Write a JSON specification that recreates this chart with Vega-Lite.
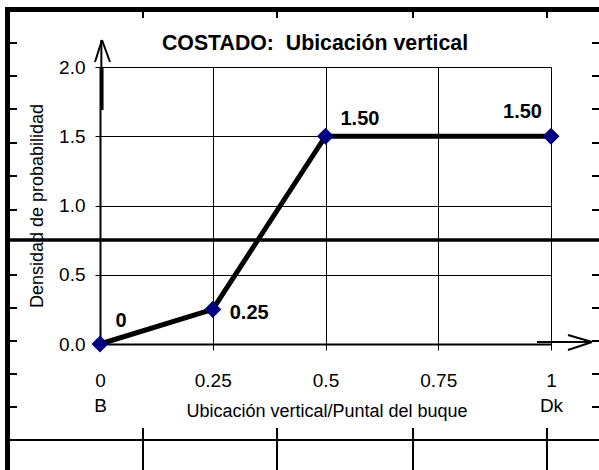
{
  "$schema": "https://vega.github.io/schema/vega-lite/v6.json",
  "width": 451,
  "height": 277,
  "autosize": {"type": "none"},
  "padding": {"left": 100, "top": 67, "right": 48, "bottom": 126},
  "background": "white",
  "config": {"view": {"stroke": null}, "font": "Liberation Sans"},
  "title": {
    "text": "COSTADO:\u00a0 Ubicación vertical",
    "frame": "group",
    "anchor": "middle",
    "font": "Liberation Sans",
    "fontSize": 21.3,
    "fontWeight": "bold",
    "color": "black",
    "dx": -10.5,
    "baseline": "alphabetic",
    "offset": -64
  },
  "datasets": {
    "series": [
      {"x": 0, "y": 0, "label": "0"},
      {"x": 0.25, "y": 0.25, "label": "0.25"},
      {"x": 0.5, "y": 1.5, "label": "1.50"},
      {"x": 1, "y": 1.5, "label": "1.50"}
    ],
    "frame": [
      {"kind": "top", "x": -0.2106, "x2": 1.12, "y": 2.4152, "y2": 2.4152},
      {"kind": "border", "x": -0.2051, "x2": -0.2051, "y": 2.4152, "y2": -0.95},
      {"kind": "heavy", "x": -0.2051, "x2": 1.12, "y": 0.7509, "y2": 0.7509},
      {"kind": "heavy", "x": 0.004, "x2": 0.004, "y": 2.0, "y2": 1.6895},
      {"kind": "thin", "x": -0.2051, "x2": 1.12, "y": -0.6931, "y2": -0.6931},
      {"kind": "thin", "x": 0.0953, "x2": 0.0953, "y": -0.6065, "y2": -0.95},
      {"kind": "thin", "x": 0.3925, "x2": 0.3925, "y": -0.6065, "y2": -0.95},
      {"kind": "thin", "x": 0.694, "x2": 0.694, "y": -0.6065, "y2": -0.95},
      {"kind": "thin", "x": 0.9911, "x2": 0.9911, "y": -0.6065, "y2": -0.95},
      {"kind": "thin", "x": 0.0953, "x2": 0.0953, "y": 2.41, "y2": 2.3538},
      {"kind": "thin", "x": 0.3925, "x2": 0.3925, "y": 2.41, "y2": 2.3538},
      {"kind": "thin", "x": 0.694, "x2": 0.694, "y": 2.41, "y2": 2.3538},
      {"kind": "thin", "x": 0.9911, "x2": 0.9911, "y": 2.41, "y2": 2.3538},
      {"kind": "thin", "x": -0.2051, "x2": -0.184, "y": 2.1733, "y2": 2.1733},
      {"kind": "thin", "x": -0.2051, "x2": -0.184, "y": 1.935, "y2": 1.935},
      {"kind": "thin", "x": -0.2051, "x2": -0.184, "y": 1.6968, "y2": 1.6968},
      {"kind": "thin", "x": -0.2051, "x2": -0.184, "y": 1.4513, "y2": 1.4513},
      {"kind": "thin", "x": -0.2051, "x2": -0.184, "y": 1.213, "y2": 1.213},
      {"kind": "thin", "x": -0.2051, "x2": -0.184, "y": 0.9675, "y2": 0.9675},
      {"kind": "thin", "x": -0.2051, "x2": -0.184, "y": 0.4982, "y2": 0.4982},
      {"kind": "thin", "x": -0.2051, "x2": -0.184, "y": 0.2599, "y2": 0.2599},
      {"kind": "thin", "x": -0.2051, "x2": -0.184, "y": 0.0217, "y2": 0.0217},
      {"kind": "thin", "x": -0.2051, "x2": -0.184, "y": -0.2166, "y2": -0.2166},
      {"kind": "thin", "x": -0.2051, "x2": -0.184, "y": -0.4549, "y2": -0.4549},
      {"kind": "thin", "x": 1.0909, "x2": 1.12, "y": 2.1733, "y2": 2.1733},
      {"kind": "thin", "x": 1.0909, "x2": 1.12, "y": 1.935, "y2": 1.935},
      {"kind": "thin", "x": 1.0909, "x2": 1.12, "y": 1.6968, "y2": 1.6968},
      {"kind": "thin", "x": 1.0909, "x2": 1.12, "y": 1.4513, "y2": 1.4513},
      {"kind": "thin", "x": 1.0909, "x2": 1.12, "y": 1.213, "y2": 1.213},
      {"kind": "thin", "x": 1.0909, "x2": 1.12, "y": 0.9675, "y2": 0.9675},
      {"kind": "thin", "x": 1.0909, "x2": 1.12, "y": 0.4982, "y2": 0.4982},
      {"kind": "thin", "x": 1.0909, "x2": 1.12, "y": 0.2599, "y2": 0.2599},
      {"kind": "thin", "x": 1.0909, "x2": 1.12, "y": 0.0217, "y2": 0.0217},
      {"kind": "thin", "x": 1.0909, "x2": 1.12, "y": -0.2166, "y2": -0.2166},
      {"kind": "thin", "x": 1.0909, "x2": 1.12, "y": -0.4549, "y2": -0.4549},
      {"kind": "thin", "x": 0.003, "x2": 0.003, "y": 2.1949, "y2": 2.0},
      {"kind": "thin", "x": 0.0044, "x2": -0.0111, "y": 2.1949, "y2": 2.0361},
      {"kind": "thin", "x": 0.0044, "x2": 0.0222, "y": 2.1949, "y2": 2.0361},
      {"kind": "thin", "x": 0.969, "x2": 1.0909, "y": 0.0144, "y2": 0.0144},
      {"kind": "thin", "x": 1.0909, "x2": 1.0377, "y": 0.0144, "y2": 0.065},
      {"kind": "thin", "x": 1.0909, "x2": 1.0377, "y": 0.0144, "y2": -0.0433}
    ]
  },
  "encoding": {
    "x": {
      "field": "x",
      "type": "quantitative",
      "scale": {"domain": [0, 1], "nice": false, "zero": false},
      "axis": {
        "values": [0, 0.25, 0.5, 0.75, 1],
        "format": ".2~f",
        "labelExpr": "datum.value == 0 ? ['0', 'B'] : datum.value == 1 ? ['1', 'Dk'] : datum.label",
        "grid": true,
        "gridColor": "black",
        "gridWidth": 1,
        "gridOpacity": 1,
        "domainColor": "black",
        "domainWidth": 2,
        "tickColor": "black",
        "tickWidth": 1,
        "tickSize": 6,
        "labelFont": "Liberation Sans",
        "labelFontSize": 19,
        "labelColor": "black",
        "labelPadding": 21,
        "labelLineHeight": 25,
        "labelFlush": false,
        "labelOverlap": false,
        "labelBound": false,
        "title": "Ubicación vertical/Puntal del buque",
        "titleFont": "Liberation Sans",
        "titleFontSize": 18,
        "titleFontWeight": "normal",
        "titleColor": "black",
        "titleX": 226.5,
        "titleY": 67,
        "titleAlign": "center",
        "titleBaseline": "middle"
      }
    },
    "y": {
      "field": "y",
      "type": "quantitative",
      "scale": {"domain": [0, 2], "nice": false, "zero": false},
      "axis": {
        "values": [0, 0.5, 1, 1.5, 2],
        "format": ".1f",
        "grid": true,
        "gridColor": "black",
        "gridWidth": 1,
        "gridOpacity": 1,
        "domainColor": "black",
        "domainWidth": 2,
        "tickColor": "black",
        "tickWidth": 1,
        "tickSize": 5,
        "labelFont": "Liberation Sans",
        "labelFontSize": 19,
        "labelColor": "black",
        "labelPadding": 10,
        "labelFlush": false,
        "labelOverlap": false,
        "labelBound": false,
        "title": "Densidad de probabilidad",
        "titleFont": "Liberation Sans",
        "titleFontSize": 18,
        "titleFontWeight": "normal",
        "titleColor": "black",
        "titleX": -63,
        "titleY": 138.5,
        "titleAngle": -90,
        "titleAlign": "center",
        "titleBaseline": "middle"
      }
    }
  },
  "layer": [
    {
      "data": {"name": "frame"},
      "transform": [{"filter": "datum.kind == 'thin'"}],
      "mark": {"type": "rule", "color": "black", "strokeWidth": 2},
      "encoding": {"x2": {"field": "x2"}, "y2": {"field": "y2"}}
    },
    {
      "data": {"name": "series"},
      "mark": {"type": "line", "color": "black", "strokeWidth": 5}
    },
    {
      "data": {"name": "series"},
      "mark": {"type": "point", "shape": "diamond", "filled": true, "color": "#000080", "size": 290, "opacity": 1}
    },
    {
      "data": {"name": "series"},
      "transform": [{"filter": "datum.x == 0"}],
      "mark": {"type": "text", "align": "center", "baseline": "middle", "dx": 21, "dy": -23, "font": "Liberation Sans", "fontSize": 20, "fontWeight": "bold", "color": "black"},
      "encoding": {"text": {"field": "label"}}
    },
    {
      "data": {"name": "series"},
      "transform": [{"filter": "datum.x == 0.25"}],
      "mark": {"type": "text", "align": "left", "baseline": "middle", "dx": 17, "dy": 3.5, "font": "Liberation Sans", "fontSize": 20, "fontWeight": "bold", "color": "black"},
      "encoding": {"text": {"field": "label"}}
    },
    {
      "data": {"name": "series"},
      "transform": [{"filter": "datum.x == 0.5"}],
      "mark": {"type": "text", "align": "left", "baseline": "middle", "dx": 15, "dy": -17, "font": "Liberation Sans", "fontSize": 20, "fontWeight": "bold", "color": "black"},
      "encoding": {"text": {"field": "label"}}
    },
    {
      "data": {"name": "series"},
      "transform": [{"filter": "datum.x == 1"}],
      "mark": {"type": "text", "align": "right", "baseline": "middle", "dx": -9, "dy": -24, "font": "Liberation Sans", "fontSize": 20, "fontWeight": "bold", "color": "black"},
      "encoding": {"text": {"field": "label"}}
    },
    {
      "data": {"name": "frame"},
      "transform": [{"filter": "datum.kind == 'heavy'"}],
      "mark": {"type": "rule", "color": "black", "strokeWidth": 3.5},
      "encoding": {"x2": {"field": "x2"}, "y2": {"field": "y2"}}
    },
    {
      "data": {"name": "frame"},
      "transform": [{"filter": "datum.kind == 'border'"}],
      "mark": {"type": "rule", "color": "black", "strokeWidth": 5},
      "encoding": {"x2": {"field": "x2"}, "y2": {"field": "y2"}}
    },
    {
      "data": {"name": "frame"},
      "transform": [{"filter": "datum.kind == 'top'"}],
      "mark": {"type": "rule", "color": "black", "strokeWidth": 5},
      "encoding": {"x2": {"field": "x2"}, "y2": {"field": "y2"}}
    }
  ]
}
